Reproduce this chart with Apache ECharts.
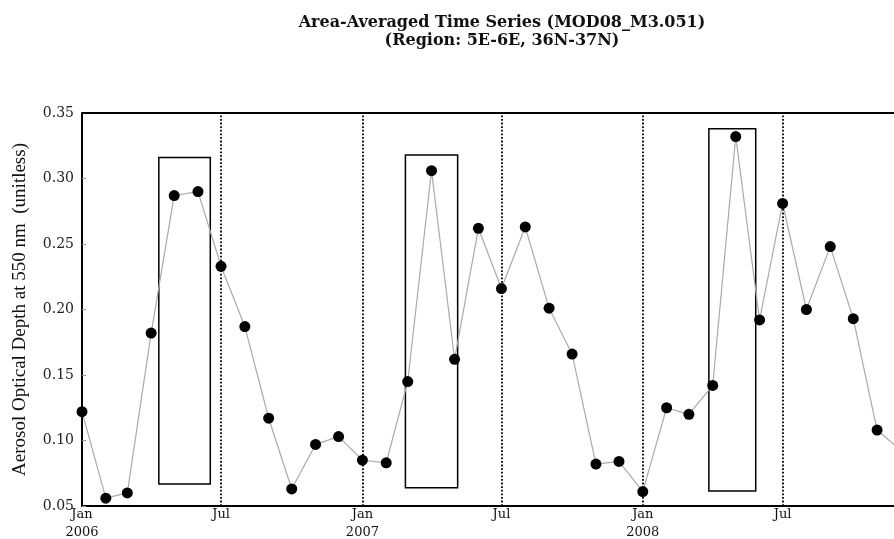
<!DOCTYPE html>
<html>
<head>
<meta charset="utf-8">
<script src="https://cdn.jsdelivr.net/npm/echarts@6/dist/echarts.min.js"></script>
<style>
html,body{margin:0;padding:0;background:#fff;}
#chart{width:894px;height:539px;}
</style>
</head>
<body>
<div id="chart"></div>
<script>
// ---- data ----
const months = [
  '2006-01-01','2006-02-01','2006-03-01','2006-04-01','2006-05-01','2006-06-01',
  '2006-07-01','2006-08-01','2006-09-01','2006-10-01','2006-11-01','2006-12-01',
  '2007-01-01','2007-02-01','2007-03-01','2007-04-01','2007-05-01','2007-06-01',
  '2007-07-01','2007-08-01','2007-09-01','2007-10-01','2007-11-01','2007-12-01',
  '2008-01-01','2008-02-01','2008-03-01','2008-04-01','2008-05-01','2008-06-01',
  '2008-07-01','2008-08-01','2008-09-01','2008-10-01','2008-11-01','2008-12-01'
];
const aodValues = [
  0.122, 0.056, 0.060, 0.182, 0.287, 0.290, 0.233, 0.187, 0.117, 0.063, 0.097, 0.103,
  0.085, 0.083, 0.145, 0.306, 0.162, 0.262, 0.216, 0.263, 0.201, 0.166, 0.082, 0.084,
  0.061, 0.125, 0.120, 0.142, 0.332, 0.192, 0.281, 0.200, 0.248, 0.193, 0.108, 0.093
];
const xTickDates = ['2006-01-01','2006-07-01','2007-01-01','2007-07-01','2008-01-01','2008-07-01'];
const xTickLabels = ['Jan\n2006','Jul','Jan\n2007','Jul','Jan\n2008','Jul'];
const dottedLineDates = ['2006-07-01','2007-01-01','2007-07-01','2008-01-01','2008-07-01'];
// visible time window of the x axis
const xStart = '2006-01-01';
const xEnd = '2008-11-23';
// highlight boxes: [startDate, endDate, lowValue, highValue]
const highlightBoxes = [
  ['2006-04-11','2006-06-17', 0.0668, 0.316],
  ['2007-02-26','2007-05-05', 0.064, 0.318],
  ['2008-03-27','2008-05-27', 0.0615, 0.338]
];

// ---- chart ----
const DAY = 86400000;
const t0 = Date.UTC(2006, 0, 1);
const dayNum = d => (new Date(d + 'T00:00:00Z').getTime() - t0) / DAY;
const labelMap = {};
xTickDates.forEach((d, i) => { labelMap[dayNum(d)] = xTickLabels[i]; });

const chart = echarts.init(document.getElementById('chart'), null, {renderer: 'canvas'});
chart.setOption({
  animation: false,
  backgroundColor: '#fff',
  title: {
    text: 'Area-Averaged Time Series (MOD08_M3.051)\n(Region: 5E-6E, 36N-37N)',
    left: 497,
    textAlign: 'center',
    top: 9,
    textStyle: {
      fontFamily: 'DejaVu Serif',
      fontWeight: 'bold',
      fontSize: 16,
      lineHeight: 18,
      color: '#111'
    }
  },
  grid: {left: 82, right: 0, top: 113, bottom: 33, containLabel: false, outerBoundsMode: 'none'},
  xAxis: {
    type: 'value',
    min: dayNum(xStart),
    max: dayNum(xEnd),
    axisLine: {show: true, lineStyle: {color: '#000', width: 2}},
    axisTick: {show: false},
    splitLine: {show: false},
    axisLabel: {
      customValues: xTickDates.map(dayNum),
      formatter: v => labelMap[v] || '',
      fontFamily: 'DejaVu Serif',
      fontSize: 13,
      lineHeight: 18,
      margin: 0,
      color: '#111',
      showMinLabel: true,
      hideOverlap: false
    }
  },
  yAxis: {
    type: 'value',
    min: 0.05,
    max: 0.35,
    interval: 0.05,
    name: 'Aerosol Optical Depth at 550 nm  (unitless)',
    nameLocation: 'middle',
    nameGap: 52,
    nameRotate: 90,
    nameTextStyle: {fontFamily: 'Liberation Serif', fontSize: 19, color: '#111'},
    axisLine: {show: true, lineStyle: {color: '#000', width: 2}},
    axisTick: {show: true, inside: true, length: 4, lineStyle: {color: '#999'}},
    splitLine: {show: false},
    axisLabel: {
      formatter: v => v.toFixed(2),
      fontFamily: 'DejaVu Serif',
      fontSize: 14,
      margin: 8,
      color: '#222'
    }
  },
  series: [
    {
      type: 'line',
      data: months.map((m, i) => [dayNum(m), aodValues[i]]),
      symbol: 'circle',
      symbolSize: 11,
      itemStyle: {color: '#000'},
      lineStyle: {color: '#aaa', width: 1.2},
      clip: true,
      z: 3,
      markLine: {
        silent: true,
        symbol: ['none', 'none'],
        label: {show: false},
        lineStyle: {color: '#000', type: 'dotted', width: 1.8},
        data: dottedLineDates.map(d => ({xAxis: dayNum(d)}))
      },
      markArea: {
        silent: true,
        itemStyle: {color: 'rgba(0,0,0,0)', borderColor: '#000', borderWidth: 1.5},
        data: highlightBoxes.map(b => [
          {xAxis: dayNum(b[0]), yAxis: b[2]},
          {xAxis: dayNum(b[1]), yAxis: b[3]}
        ])
      }
    },
    {
      type: 'line',
      data: [[dayNum(xStart), 0.35], [dayNum(xEnd), 0.35]],
      symbol: 'none',
      silent: true,
      lineStyle: {color: '#000', width: 2},
      z: 4
    }
  ]
});
</script>
</body>
</html>
